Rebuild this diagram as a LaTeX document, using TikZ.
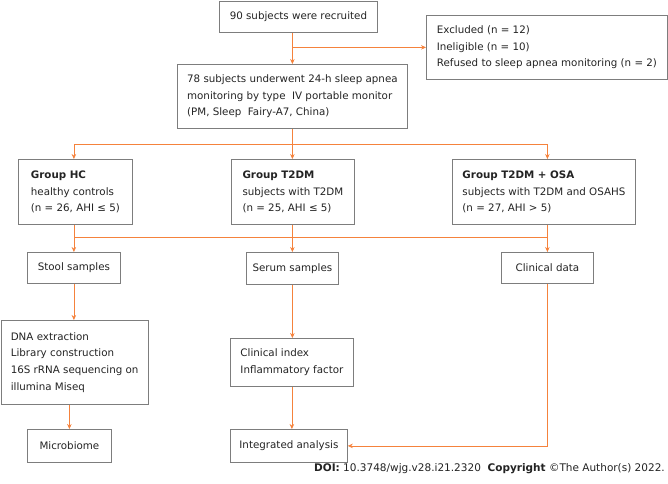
\documentclass[tikz,border=0pt]{standalone}
\usepackage{fontspec}
\setmainfont{DejaVu Sans}
\usepackage{tikz}
\usetikzlibrary{arrows}
\usetikzlibrary{arrows.meta}

\definecolor{linkorange}{RGB}{245,130,60}
\definecolor{framegray}{RGB}{125,125,125}
\definecolor{inkgray}{RGB}{35,35,35}

\begin{document}
\begin{tikzpicture}[x=1pt,y=-1pt,
		box/.style={draw=framegray,line width=0.8pt,anchor=north west,inner sep=0pt,align=left,text=inkgray,font=\fontsize{10.3pt}{16.6pt}\selectfont},
		flow/.style={draw=linkorange,line width=0.6pt},
		>={Stealth[length=5pt,width=4.5pt]}]
			\useasboundingbox (0,0) rectangle (668,483);
			
			% recruitment
			
			\node[box,minimum width=158pt,minimum height=31pt] (recruit) at (219,1) {90 subjects were recruited};
			\node[box,minimum width=241pt,minimum height=64pt] (excl) at (426,15) {Excluded (n = 12)\\Ineligible (n = 10)\\Refused to sleep apnea monitoring (n = 2)};
			\node[box,minimum width=230pt,minimum height=64pt] (monitor) at (177,64) {78 subjects underwent 24-h sleep apnea\\monitoring by type~ IV portable monitor\\(PM, Sleep~ Fairy-A7, China)};
			\draw[flow,->] (recruit.south -| monitor.north) -- (monitor.north);
			\coordinate (split) at (monitor.north |- excl.west);
			\draw[flow,->] (split) -- (excl.west);
			
			% groups
			
			\node[box,minimum width=114pt,minimum height=65pt] (hc) at (18,159) {\textbf{Group HC}\\healthy controls\\(n = 26, AHI ≤ 5)};
			\node[box,minimum width=123pt,minimum height=65pt] (t2dm) at (231,159) {\textbf{Group T2DM}\\subjects with T2DM\\(n = 25, AHI ≤ 5)};
			\node[box,minimum width=183pt,minimum height=65pt] (osa) at (452,159) {\textbf{Group T2DM + OSA}\\subjects with T2DM and OSAHS\\(n = 27, AHI > 5)};
			
			% samples
			
			\node[box,minimum width=93pt,minimum height=31pt] (stool) at (27,252) {Stool samples};
			\node[box,minimum width=92pt,minimum height=32pt] (serum) at (246,252) {Serum samples};
			\node[box,minimum width=92pt,minimum height=31pt] (clin) at (501,252) {Clinical data};
			
			\coordinate (bar1) at (0,144);
			\coordinate (bar2) at (0,237);
			\draw[flow] (monitor.south) -- (monitor.south |- bar1);
			\draw[flow] (stool.north |- bar1) -- (clin.north |- bar1);
			\draw[flow,->] (stool.north |- bar1) -- (hc.north -| stool.north);
			\draw[flow,->] (monitor.south |- bar1) -- (t2dm.north -| monitor.south);
			\draw[flow,->] (clin.north |- bar1) -- (osa.north -| clin.north);
			
			\draw[flow] (hc.south -| stool.north) -- (stool.north |- bar2) -- (clin.north |- bar2);
			\draw[flow] (t2dm.south -| serum.north) -- (serum.north |- bar2);
			\draw[flow] (osa.south -| clin.north) -- (clin.north |- bar2);
			\foreach \n in {stool,serum,clin} {
				\draw[flow,->] (\n.north |- bar2) -- (\n.north);
			}
			
			% analysis
			
			\node[box,minimum width=147.5pt,minimum height=84pt] (dna) at (0.5,320) {DNA extraction\\Library construction\\16S rRNA sequencing on\\illumina Miseq};
			\node[box,minimum width=123pt,minimum height=48pt] (index) at (230,338) {Clinical index\\Inflammatory factor};
			\node[box,minimum width=84pt,minimum height=33pt] (micro) at (27,429) {Microbiome};
			\node[box,minimum width=117pt,minimum height=33pt] (integ) at (230,429) {Integrated analysis};
			
			\draw[flow,->] (stool.south) -- (stool.south |- dna.north);
			\draw[flow,->] (dna.south -| micro.north) -- (micro.north);
			\draw[flow,->] (serum.south) -- (serum.south |- index.north);
			\draw[flow,->] (index.south) -- (index.south |- integ.north);
			\draw[flow,->] (clin.south) |- (integ.east);
			
			\node[anchor=east,inner sep=0pt,text=inkgray,font=\fontsize{10.5pt}{12pt}\selectfont] (doi) at (665,469) {\textbf{DOI:} 10.3748/wjg.v28.i21.2320\ \ \textbf{Copyright} ©The Author(s) 2022.};
		\end{tikzpicture}
\end{document}
